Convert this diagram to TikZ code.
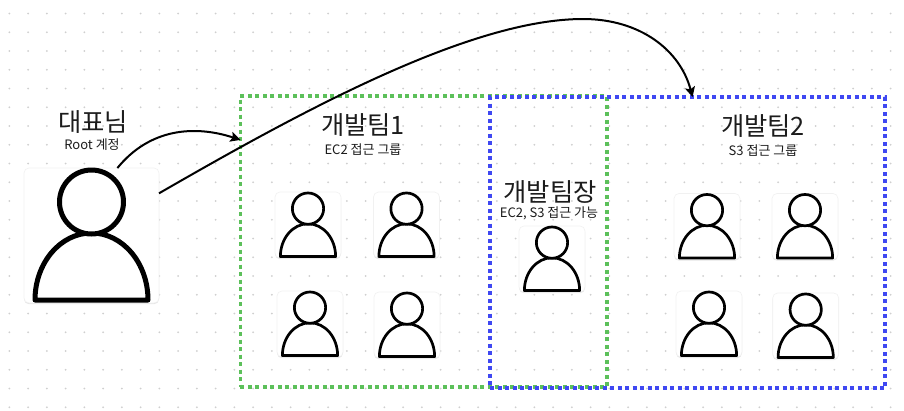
\documentclass[tikz,border=0pt]{standalone}
\usepackage{fontspec}
\setmainfont{Noto Sans CJK KR}
\usetikzlibrary{arrows.meta,shadows}
\definecolor{grpgreen}{HTML}{5CC05A}
\definecolor{grpblue}{HTML}{3F48F2}
\definecolor{griddot}{HTML}{CFCFCF}
\definecolor{inkc}{HTML}{1C1C1C}
\definecolor{boxedge}{HTML}{F1F1F1}
\tikzset{
  personbox/.style={draw=boxedge,line width=0.6pt,fill=white,rounded corners=5pt,inner sep=0pt,outer sep=0pt,anchor=north west,
    drop shadow={opacity=0.2,shadow xshift=0pt,shadow yshift=-1.2pt}},
  grpbox/.style={rectangle,line width=3.2pt,dash pattern=on 4pt off 3.5pt,inner sep=0pt,outer sep=0pt,fill=none},
  personline/.style={draw=black,fill=white,line join=round},
  bigtitle/.style={font=\fontsize{25.3}{28}\selectfont,text=inkc,inner sep=0pt,anchor=center},
  subtitle/.style={font=\fontsize{13}{15}\selectfont,text=inkc,inner sep=0pt,anchor=center},
  conn/.style={draw=black,line width=2pt,-{Stealth[length=10pt,width=10pt,inset=2pt]}}
}
% name, x, y, box size, line width
\newcommand{\personicon}[5]{%
  \node[personbox,minimum width=#4pt,minimum height=#4pt] (#1) at (#2,#3) {};
  \pgfmathsetmacro{\pscale}{#4/135}
  \begin{scope}[shift={(#2,#3)},x=\pscale pt,y=-\pscale pt]
    \draw[personline,line width=#5pt] (11,132) arc[start angle=180,end angle=360,x radius=56.5,y radius=67] -- cycle;
    \draw[personline,line width=#5pt] (67.5,34) circle[radius=32];
  \end{scope}
}
\begin{document}
\begin{tikzpicture}[x=1pt,y=-1pt]
\useasboundingbox (0,0) rectangle (904,410);
\fill[white] (0,0) rectangle (904,410);
\foreach \i in {0,...,47}{
  \foreach \j in {0,...,21}{
    \fill[griddot] ({9.3+18.75*\i},{13.5+18.75*\j}) circle[radius=1];
  }
}
\node[grpbox,draw=grpgreen,minimum width=366.5pt,minimum height=291pt] (teamone) at (423.7,241.5) {};
\node[grpbox,draw=grpblue,minimum width=395pt,minimum height=291pt] (teamtwo) at (687.5,242.5) {};

\personicon{ceo}{24}{168}{135}{5}
\personicon{aone}{275}{192}{66}{2.7}
\personicon{atwo}{373.5}{192}{66}{2.7}
\personicon{athree}{277}{291}{66}{2.7}
\personicon{afour}{374}{292}{66}{2.7}
\personicon{lead}{519}{226}{66}{2.7}
\personicon{bone}{674}{193.5}{66}{2.7}
\personicon{btwo}{772}{193.5}{66}{2.7}
\personicon{bthree}{676}{291}{66}{2.7}
\personicon{bfour}{772.7}{293}{66}{2.7}

\node[bigtitle] (ceotitle) at (93,122) {대표님};
\node[subtitle] (ceosub) at (92,145) {Root 계정};
\node[bigtitle] (onetitle) at (363,125) {개발팀1};
\node[subtitle] (onesub) at (363,150) {EC2 접근 그룹};
\node[bigtitle] (twotitle) at (763,126) {개발팀2};
\node[subtitle] (twosub) at (763,151) {S3 접근 그룹};
\node[bigtitle] (leadtitle) at (550,192) {개발팀장};
\node[subtitle] (leadsub) at (549,213) {EC2, S3 접근 가능};

\draw[conn] (ceo.69) .. controls (150,128) and (195,125) .. (teamone.151);
\coordinate (apex) at (583,19);
\draw[conn] (ceo.32) .. controls (300,112) and (470,19) .. (apex) .. controls (640,19) and (680,50) .. (teamtwo.88);
\end{tikzpicture}
\end{document}
